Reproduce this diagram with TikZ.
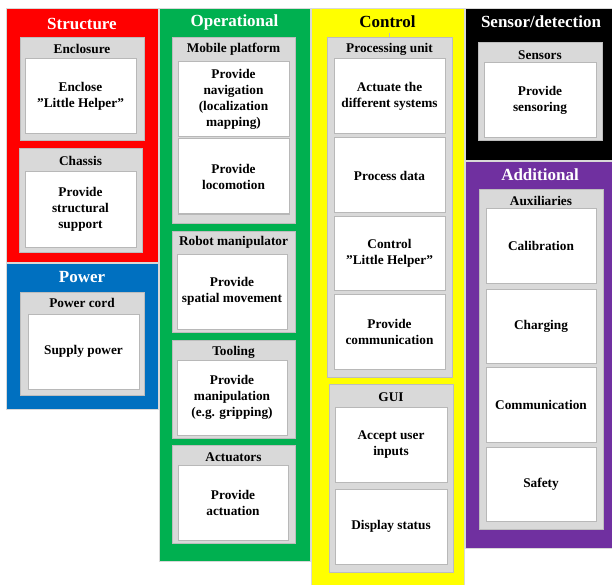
\documentclass[tikz,border=0pt]{standalone}
\usepackage{fontspec}
\setmainfont{Liberation Serif}
\usetikzlibrary{fit}
\definecolor{cred}{HTML}{FF0000}
\definecolor{cgreen}{HTML}{00B050}
\definecolor{cblue}{HTML}{0070C0}
\definecolor{cyellow}{HTML}{FFFF00}
\definecolor{cpurple}{HTML}{7030A0}
\definecolor{grpfill}{HTML}{D9D9D9}
\definecolor{grpline}{HTML}{BDBDBD}
\definecolor{leafline}{HTML}{B8B8B8}
\definecolor{sepline}{HTML}{D8D8D8}
\begin{document}
\begin{tikzpicture}[x=1pt,y=-1pt,
  panel/.style={draw=sepline, line width=0.5pt, inner sep=0pt},
  grp/.style={fill=grpfill, draw=grpline, line width=1pt, inner sep=0pt},
  leaf/.style={fill=white, draw=leafline, line width=1pt, inner sep=0pt},
  lbl/.style={inner sep=0pt, align=center, font=\bfseries\fontsize{13.3}{16}\selectfont},
  ttl/.style={font=\bfseries\fontsize{17}{20}\selectfont, inner sep=0pt},
  hdr/.style={font=\bfseries\fontsize{13.3}{16}\selectfont, inner sep=0pt},
  tick/.style={draw=grpline, line width=0.6pt}]
\fill[white] (0,0) rectangle (612,585);
\useasboundingbox (0,0) rectangle (612,585);

% panels
\node[panel, fill=cred, fit={(6,8) (158,262)}] (structure) {};
\node[panel, fill=cblue, fit={(6,263) (158,409)}] (power) {};
\node[panel, fill=cgreen, fit={(159,8) (310,561)}] (operational) {};
\node[panel, fill=cyellow, fit={(311,8) (464,585)}] (control) {};
\node[panel, fill=black, fit={(465,8) (612,160)}] (sensor) {};
\node[panel, fill=cpurple, fit={(465,161) (612,548)}] (additional) {};

\node[ttl, text=white] (tstructure) at (82,24) {Structure};
\node[ttl, text=white] (tpower) at (82,277) {Power};
\node[ttl, text=white] (toperational) at (234.5,22) {Operational};
\node[ttl, text=black] (tcontrol) at (387.5,22) {Control};
\node[ttl, text=white] (tsensor) at (541,22) {Sensor/detection};
\node[ttl, text=white] (tadditional) at (540,175) {Additional};

% groups
\node[grp, fit={(20,38) (144,141)}] (genclosure) {};
\node[hdr] (henclosure) at (82,49) {Enclosure};
\node[grp, fit={(19,149) (142,252)}] (gchassis) {};
\node[hdr] (hchassis) at (80.5,161) {Chassis};
\node[grp, fit={(20,292) (144,395)}] (gpowercord) {};
\node[hdr] (hpowercord) at (82,303) {Power cord};
\node[grp, fit={(172,38) (295,223)}] (gmobile) {};
\node[hdr] (hmobile) at (233.5,49) {Mobile platform};
\node[grp, fit={(172,231) (295,332)}] (grobot) {};
\node[hdr] (hrobot) at (233.5,242) {Robot manipulator};
\node[grp, fit={(172,340) (295,438)}] (gtooling) {};
\node[hdr] (htooling) at (233.5,352) {Tooling};
\node[grp, fit={(172,445) (295,543)}] (gactuators) {};
\node[hdr] (hactuators) at (233.5,457) {Actuators};
\node[grp, fit={(327,38) (452,377)}] (gprocessing) {};
\node[hdr] (hprocessing) at (389.5,49) {Processing unit};
\node[grp, fit={(329,384) (453,572)}] (ggui) {};
\node[hdr] (hgui) at (391,397) {GUI};
\node[grp, fit={(478,43) (602,141)}] (gsensors) {};
\node[hdr] (hsensors) at (540,55) {Sensors};
\node[grp, fit={(479,190) (603,529)}] (gaux) {};
\node[hdr] (haux) at (541,201) {Auxiliaries};

\coordinate (tickend) at (389.5,33);
\draw[tick] (gprocessing.north) -- (tickend);

% leaves
\node[leaf, fit={(25,59) (136,134)}] (e1) {};
\node[lbl] (e1t) at (e1.center) {Enclose\\”Little Helper”};
\node[leaf, fit={(25,172) (136,247)}] (c1) {};
\node[lbl] (c1t) at (c1.center) {Provide\\structural\\support};
\node[leaf, fit={(28,314) (139,389)}] (p1) {};
\node[lbl] (p1t) at (p1.center) {Supply power};
\node[leaf, fit={(178,62) (289,137)}] (m1) {};
\node[lbl] (m1t) at (m1.center) {Provide\\navigation\\(localization\\mapping)};
\node[leaf, fit={(178,139) (289,214)}] (m2) {};
\node[lbl] (m2t) at (m2.center) {Provide\\locomotion};
\node[leaf, fit={(177,254) (287,329)}] (r1) {};
\node[lbl] (r1t) at (r1.center) {Provide\\spatial movement};
\node[leaf, fit={(177,360) (287,435)}] (t1) {};
\node[lbl] (t1t) at (t1.center) {Provide\\manipulation\\(e.g. gripping)};
\node[leaf, fit={(178,465) (288,540)}] (a1) {};
\node[lbl] (a1t) at (a1.center) {Provide\\actuation};
\node[leaf, fit={(334,59) (445,134)}] (pu1) {};
\node[lbl] (pu1t) at (pu1.center) {Actuate the\\different systems};
\node[leaf, fit={(334,138) (445,213)}] (pu2) {};
\node[lbl] (pu2t) at (pu2.center) {Process data};
\node[leaf, fit={(334,216) (445,290)}] (pu3) {};
\node[lbl] (pu3t) at (pu3.center) {Control\\”Little Helper”};
\node[leaf, fit={(334,294) (445,369)}] (pu4) {};
\node[lbl] (pu4t) at (pu4.center) {Provide\\communication};
\node[leaf, fit={(335,407) (447,482)}] (g1) {};
\node[lbl] (g1t) at (g1.center) {Accept user\\inputs};
\node[leaf, fit={(335,489) (447,564)}] (g2) {};
\node[lbl] (g2t) at (g2.center) {Display status};
\node[leaf, fit={(484,63) (596,138)}] (s1) {};
\node[lbl] (s1t) at (s1.center) {Provide\\sensoring};
\node[leaf, fit={(486,209) (596,283)}] (x1) {};
\node[lbl] (x1t) at (x1.center) {Calibration};
\node[leaf, fit={(486,289) (596,363)}] (x2) {};
\node[lbl] (x2t) at (x2.center) {Charging};
\node[leaf, fit={(486,367) (596,442)}] (x3) {};
\node[lbl] (x3t) at (x3.center) {Communication};
\node[leaf, fit={(486,447) (596,521)}] (x4) {};
\node[lbl] (x4t) at (x4.center) {Safety};
\end{tikzpicture}
\end{document}
